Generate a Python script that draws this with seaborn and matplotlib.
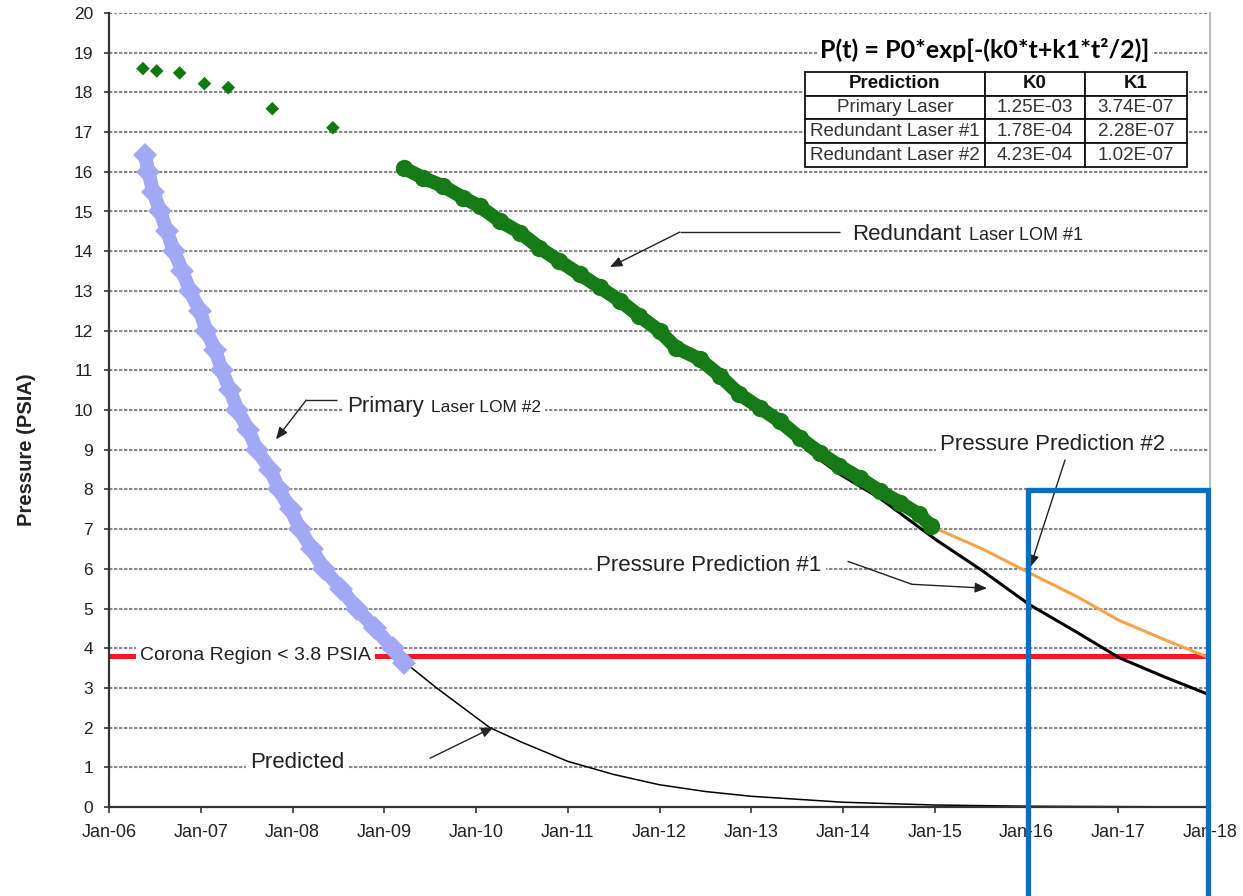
import matplotlib
matplotlib.use("Agg")
import matplotlib.pyplot as plt
import seaborn as sns
import numpy as np
import pandas as pd
from matplotlib.patches import Rectangle

# ---------------- data ----------------
early_years = [2006.37, 2006.52, 2006.77, 2007.04, 2007.30, 2007.78, 2008.44]
early_psia = [18.60, 18.54, 18.49, 18.22, 18.12, 17.59, 17.11]

primary_years = [2006.39, 2006.43, 2006.48, 2006.56, 2006.63, 2006.71, 2006.80, 2006.88,
                 2006.99, 2007.06, 2007.16, 2007.23, 2007.32, 2007.40, 2007.52, 2007.61,
                 2007.76, 2007.85, 2007.98, 2008.08, 2008.21, 2008.34, 2008.53, 2008.70,
                 2008.90, 2009.09, 2009.22]
primary_psia = [16.43, 16.0, 15.5, 15.0, 14.5, 14.0, 13.5, 13.0,
                12.5, 12.0, 11.5, 11.0, 10.5, 10.0, 9.5, 9.0,
                8.5, 8.0, 7.5, 7.0, 6.5, 6.0, 5.5, 5.0,
                4.5, 4.0, 3.62]

redundant_years = [2009.21, 2009.42, 2009.64, 2009.86, 2010.04, 2010.26, 2010.48, 2010.69,
                   2010.91, 2011.13, 2011.35, 2011.57, 2011.78, 2012.00, 2012.18, 2012.44,
                   2012.66, 2012.87, 2013.09, 2013.31, 2013.53, 2013.75, 2013.96, 2014.18,
                   2014.40, 2014.62, 2014.83, 2014.96]
redundant_psia = [16.10, 15.85, 15.64, 15.35, 15.13, 14.76, 14.47, 14.09,
                  13.75, 13.42, 13.09, 12.75, 12.37, 11.99, 11.57, 11.28,
                  10.86, 10.40, 10.06, 9.72, 9.30, 8.92, 8.59, 8.29,
                  7.96, 7.67, 7.37, 7.08]

predicted_years = [2009.22, 2009.57, 2010.15, 2010.50, 2011.0, 2011.5, 2012.0, 2012.5,
                   2013.0, 2014.0, 2015.0, 2016.0, 2017.0, 2018.0]
predicted_psia = [3.65, 3.0, 2.0, 1.63, 1.15, 0.82, 0.56, 0.39,
                  0.27, 0.12, 0.05, 0.02, 0.01, 0.0]

pred1_years = [2013.60, 2013.96, 2014.40, 2015.02, 2015.52, 2016.03, 2016.55, 2017.01, 2017.50, 2018.0]
pred1_psia = [9.0, 8.39, 7.78, 6.72, 5.95, 5.10, 4.40, 3.76, 3.28, 2.82]

pred2_years = [2014.98, 2015.52, 2016.03, 2016.55, 2017.01, 2017.50, 2017.97]
pred2_psia = [7.05, 6.50, 5.90, 5.30, 4.70, 4.22, 3.78]

corona_level = 3.8
year_ticks = list(range(2006, 2019))
year_labels = ["Jan-%02d" % (y % 100) for y in year_ticks]
psia_ticks = list(range(0, 21))

table_header = ["Prediction", "K0", "K1"]
table_names = ["Primary Laser", "Redundant Laser #1", "Redundant Laser #2"]
table_k0 = ["1.25E-03", "1.78E-04", "4.23E-04"]
table_k1 = ["3.74E-07", "2.28E-07", "1.02E-07"]

# ---------------- style ----------------
sns.set_theme(style="white")
plt.rcParams["font.family"] = ["Liberation Sans", "DejaVu Sans"]
TXT = "#222222"

W, H = 1243, 896
fig = plt.figure(figsize=(W / 100, H / 100), dpi=100)
ax = fig.add_axes([109 / W, 1 - 807 / H, (1210 - 109) / W, (807 - 13) / H])
ax.set_xlim(2006, 2018)
ax.set_ylim(0, 20)

# grid
for v in psia_ticks[1:]:
    ax.axhline(v, color="#8a8a8a", lw=1.5, ls=(0, (1.6, 0.8)), zorder=0.5)

# corona line
ax.axhline(corona_level, color="#EE1C1C", lw=3.6, zorder=1)

# series
df_early = pd.DataFrame({"year": early_years, "psia": early_psia})
sns.scatterplot(data=df_early, x="year", y="psia", marker="D", s=48, color="#127812",
                edgecolor="none", ax=ax, zorder=3)

df_prim = pd.DataFrame({"year": primary_years, "psia": primary_psia})
sns.lineplot(data=df_prim, x="year", y="psia", color="#A2A8F3", lw=10, marker="D",
             markersize=12, markeredgewidth=0, sort=False, estimator=None, ax=ax, zorder=3,
             solid_capstyle="round", solid_joinstyle="round")

df_red = pd.DataFrame({"year": redundant_years, "psia": redundant_psia})
df_pred1 = pd.DataFrame({"year": pred1_years, "psia": pred1_psia})
sns.lineplot(data=df_pred1, x="year", y="psia", color="black", lw=2.2, sort=False,
             estimator=None, ax=ax, zorder=2.5)
sns.lineplot(data=df_red, x="year", y="psia", color="#167A16", lw=10, marker="o",
             markersize=12.5, markeredgewidth=0, sort=False, estimator=None, ax=ax, zorder=3,
             solid_capstyle="round", solid_joinstyle="round")

df_pred2 = pd.DataFrame({"year": pred2_years, "psia": pred2_psia})
sns.lineplot(data=df_pred2, x="year", y="psia", color="#F6A24C", lw=2.2, sort=False,
             estimator=None, ax=ax, zorder=2.6)

df_pred = pd.DataFrame({"year": predicted_years, "psia": predicted_psia})
sns.lineplot(data=df_pred, x="year", y="psia", color="black", lw=1.1, sort=False,
             estimator=None, ax=ax, zorder=2.6)

# axes styling
ax.set_xticks(year_ticks)
ax.set_xticklabels(year_labels)
ax.set_yticks(psia_ticks)
ax.tick_params(axis="x", which="major", direction="out", length=4, width=1.3, color="#444",
               labelsize=13, labelcolor=TXT, pad=8, bottom=True)
ax.tick_params(axis="y", which="major", direction="out", length=3.5, width=1.3, color="#444",
               labelsize=12.5, labelcolor=TXT, pad=8, left=True)
ax.set_xlabel("")
ax.set_ylabel("Pressure (PSIA)", fontsize=14.5, fontweight="bold", color=TXT)
ax.yaxis.set_label_coords(-0.066, 0.45)
for s in ["left", "bottom"]:
    ax.spines[s].set_color("#333333")
    ax.spines[s].set_linewidth(1.6)
    ax.spines[s].set_zorder(4)
ax.spines["top"].set_visible(False)
ax.spines["right"].set_color("#bdbdbd")
ax.spines["right"].set_linewidth(1.5)
ax.grid(False)

# ---------------- annotations ----------------
def wbox(pad=0.2):
    return dict(boxstyle="square,pad=%s" % pad, facecolor="white", edgecolor="none")

def ann(text, x, y, size, **kw):
    return ax.text(x, y, text, fontsize=size, color=TXT, zorder=2, bbox=wbox(), **kw)

fig.canvas.draw()
t1 = ann("Redundant", 2014.10, 14.27, 16, ha="left", va="baseline")
fig.canvas.draw()
bb = t1.get_window_extent()
x2 = ax.transData.inverted().transform((bb.x1 + 8, 0))[0]
ann("Laser LOM #1", x2, 14.27, 13, ha="left", va="baseline")

t3 = ann("Primary", 2008.60, 9.94, 16, ha="left", va="baseline")
fig.canvas.draw()
bb = t3.get_window_extent()
x4 = ax.transData.inverted().transform((bb.x1 + 7, 0))[0]
ann("Laser LOM #2", x4, 9.94, 12.5, ha="left", va="baseline")

ann("Pressure Prediction #2", 2015.06, 9.12, 16, ha="left", va="center")
ann("Pressure Prediction #1", 2011.31, 6.09, 16, ha="left", va="center")
ann("Predicted", 2007.54, 1.13, 16, ha="left", va="center")
ax.text(2006.34, 3.82, "Corona Region < 3.8 PSIA", fontsize=14, color=TXT, zorder=2,
        ha="left", va="center", bbox=wbox(0.22))

ax.text(2015.54, 19.08, "P(t) = P0*exp[-(k0*t+k1*t²/2)]", fontsize=18, fontweight="bold",
        family=["Lato", "DejaVu Sans"], color="black", ha="center", va="center", zorder=2,
        bbox=wbox(0.12))

ARW = dict(arrowstyle="-|>,head_length=0.6,head_width=0.25", color=TXT, lw=1.0,
           shrinkA=0, shrinkB=0)

def poly(xs, ys):
    ax.plot(xs, ys, color=TXT, lw=1.0, zorder=5, solid_capstyle="butt")

poly([2013.97, 2012.22], [14.48, 14.48])
ax.annotate("", xy=(2011.46, 13.60), xytext=(2012.22, 14.48), arrowprops=ARW, zorder=5)

poly([2008.49, 2008.15], [10.25, 10.25])
ax.annotate("", xy=(2007.82, 9.26), xytext=(2008.15, 10.25), arrowprops=ARW, zorder=5)

ax.annotate("", xy=(2010.19, 2.01), xytext=(2009.50, 1.23), arrowprops=ARW, zorder=5)

poly([2014.05, 2014.75], [6.19, 5.61])
ax.annotate("", xy=(2015.57, 5.51), xytext=(2014.75, 5.61), arrowprops=ARW, zorder=5)

ax.annotate("", xy=(2016.04, 6.04), xytext=(2016.42, 8.74), arrowprops=ARW, zorder=5)

# ---------------- table ----------------
cells = [[n, a, b] for n, a, b in zip(table_names, table_k0, table_k1)]
x0 = (805 - 109) / 1101
x1 = (1187 - 109) / 1101
ytop = (807 - 72) / 794
ybot = (807 - 167) / 794
tab = ax.table(cellText=cells, colLabels=table_header, cellLoc="center",
               colWidths=[0.471, 0.262, 0.267],
               bbox=[x0, ybot, x1 - x0, ytop - ybot], zorder=6)
tab.auto_set_font_size(False)
for (r, c), cell in tab.get_celld().items():
    cell.set_edgecolor("#111111")
    cell.set_linewidth(1.3)
    cell.set_facecolor("white")
    txt = cell.get_text()
    txt.set_fontsize(13.5)
    txt.set_color("#333333" if r > 0 else "#111111")
    if r == 0:
        txt.set_fontweight("bold")

# ---------------- blue highlight rectangle ----------------
rect = Rectangle((1028 / W, -0.05), (1208 - 1028) / W, 0.05 + (1 - 490 / H),
                 transform=fig.transFigure, fill=False, edgecolor="#0A6FC2", lw=3.8,
                 clip_on=False, zorder=10)
fig.patches.append(rect)

fig.savefig("out.png", dpi=100, facecolor="white")
